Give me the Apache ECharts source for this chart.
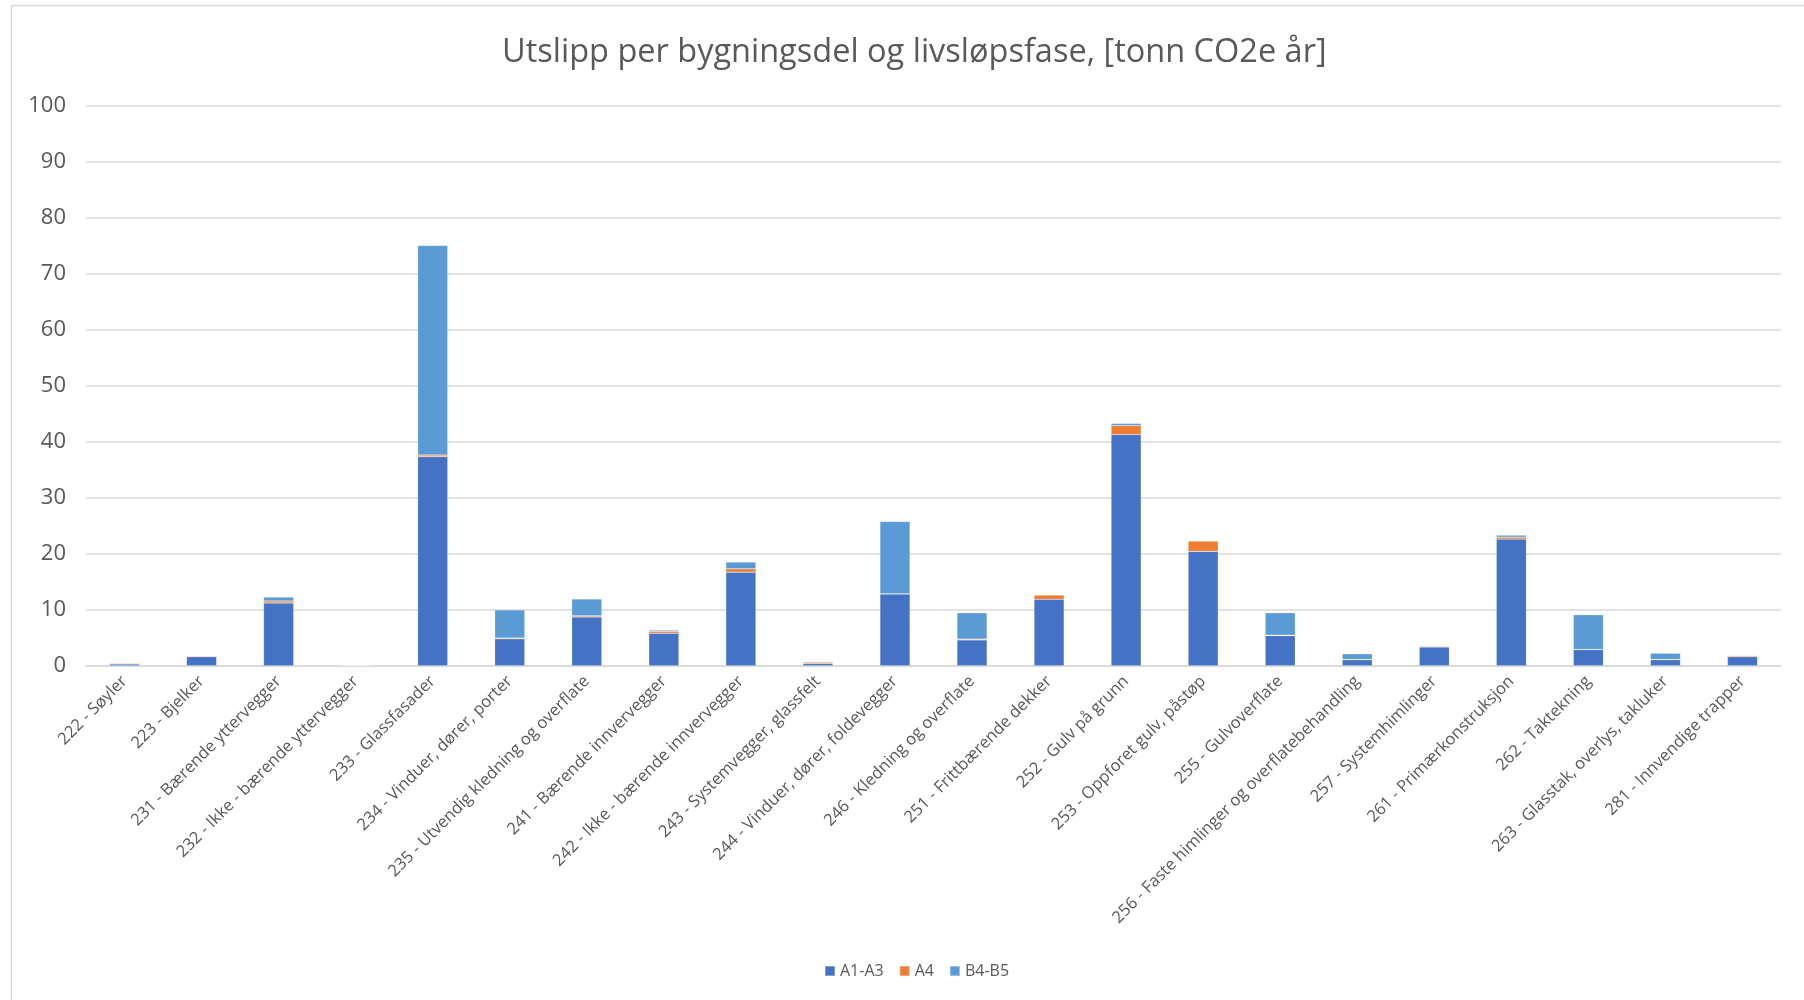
<!DOCTYPE html>
<html>
<head>
<meta charset="utf-8">
<script src="https://cdn.jsdelivr.net/npm/echarts@6/dist/echarts.min.js"></script>
<style>
html,body{margin:0;padding:0;background:#fff;}
#chart{width:1804px;height:1000px;}
</style>
</head>
<body>
<div id="chart"></div>
<script>
const titleText = 'Utslipp per bygningsdel og livsløpsfase, [tonn CO2e år]';
const categories = [
  '222 - Søyler',
  '223 - Bjelker',
  '231 - Bærende yttervegger',
  '232 - Ikke - bærende yttervegger',
  '233 - Glassfasader',
  '234 - Vinduer, dører, porter',
  '235 - Utvendig kledning og overflate',
  '241 - Bærende innvervegger',
  '242 - Ikke - bærende innvervegger',
  '243 - Systemvegger, glassfelt',
  '244 - Vinduer, dører, foldevegger',
  '246 - Kledning og overflate',
  '251 - Frittbærende dekker',
  '252 - Gulv på grunn',
  '253 - Oppforet gulv, påstøp',
  '255 - Gulvoverflate',
  '256 - Faste himlinger og overflatebehandling',
  '257 - Systemhimlinger',
  '261 - Primærkonstruksjon',
  '262 - Taktekning',
  '263 - Glasstak, overlys, takluker',
  '281 - Innvendige trapper'
];
const seriesNames = ['A1-A3', 'A4', 'B4-B5'];
const a1a3 = [0.3, 1.6, 11.2, 0.05, 37.3, 4.8, 8.7, 5.8, 16.7, 0.4, 12.8, 4.6, 11.85, 41.25, 20.4, 5.35, 1.07, 3.33, 22.6, 2.86, 1.07, 1.6];
const a4   = [0.15, 0.15, 0.35, 0.0, 0.3, 0.15, 0.2, 0.35, 0.6, 0.25, 0.05, 0.15, 0.77, 1.6, 1.85, 0.1, 0.05, 0.15, 0.35, 0.05, 0.05, 0.2];
const b4b5 = [0.0, 0.0, 0.7, 0.03, 37.4, 5.0, 3.0, 0.2, 1.2, 0.0, 12.9, 4.7, 0.05, 0.4, 0.05, 4.0, 1.0, 0.05, 0.35, 6.2, 1.1, 0.05];
const yTicks = [0, 10, 20, 30, 40, 50, 60, 70, 80, 90, 100];

const colors = ['#4472C4', '#ED7D31', '#5B9BD5'];
const font = '"Open Sans", "Noto Sans", sans-serif';
const chart = echarts.init(document.getElementById('chart'), null, {renderer: 'canvas'});

const values = [a1a3, a4, b4b5];
chart.setOption({
  animation: false,
  backgroundColor: '#ffffff',
  color: colors,
  title: {
    text: titleText,
    left: 497,
    top: 31,
    textStyle: {fontFamily: font, fontSize: 32.5, fontWeight: 'normal', color: '#595959'}
  },
  legend: {
    data: seriesNames,
    top: 958,
    left: 819,
    itemWidth: 10,
    itemHeight: 10,
    itemGap: 15,
    icon: 'rect',
    textStyle: {fontFamily: font, fontSize: 16, color: '#595959'}
  },
  grid: {left: 86, right: 23, top: 105.5, bottom: 334.3, containLabel: false},
  xAxis: {
    type: 'category',
    data: categories,
    axisLine: {show: true, lineStyle: {color: '#D9D9D9', width: 1.5}},
    axisTick: {show: false},
    axisLabel: {rotate: 45, interval: 0, margin: 13, fontFamily: font, fontSize: 16.5, color: '#595959'}
  },
  yAxis: {
    type: 'value',
    min: yTicks[0],
    max: yTicks[yTicks.length - 1],
    interval: yTicks[1] - yTicks[0],
    axisLine: {show: false},
    axisTick: {show: false},
    splitLine: {lineStyle: {color: '#D9D9D9', width: 1.5}},
    axisLabel: {margin: 20, fontFamily: font, fontSize: 22, color: '#595959'}
  },
  series: seriesNames.map((name, i) => ({
    name: name,
    type: 'bar',
    stack: 'total',
    barWidth: '39%',
    data: values[i],
    itemStyle: {color: colors[i], borderColor: 'rgba(255,255,255,0.35)', borderWidth: 0.5}
  })),
  graphic: [{
    type: 'rect',
    shape: {x: 11.5, y: 5.5, width: 1900, height: 1100},
    style: {fill: 'none', stroke: '#D9D9D9', lineWidth: 1.5},
    silent: true
  }]
});
</script>
</body>
</html>
